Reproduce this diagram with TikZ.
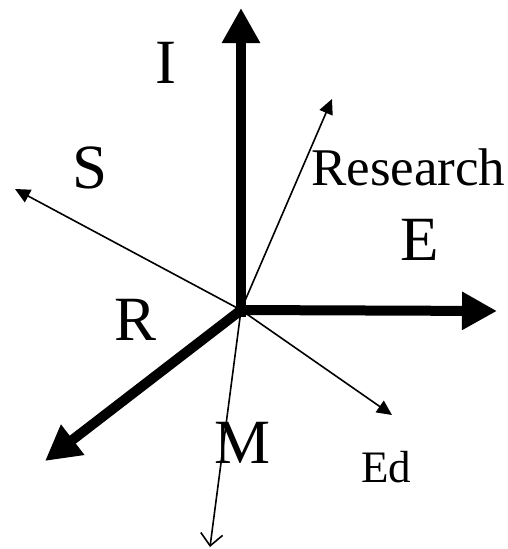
\documentclass[tikz,border=0pt]{standalone}
\usepackage{fontspec}
\setmainfont{Liberation Serif}
\usetikzlibrary{arrows.meta}
\begin{document}
\begin{tikzpicture}[x=1pt,y=-1pt,
  thickarrow/.style={line width=10pt,-{Triangle[length=35pt,width=36pt]}},
  thinarrow/.style={line width=1.6pt,-{Triangle[length=15pt,width=14pt]}},
  openarrow/.style={line width=1.6pt,-{Straight Barb[length=12pt,width=22pt,line width=1.6pt]}},
  biglabel/.style={font=\fontsize{63}{63}\selectfont,inner sep=0pt,anchor=base},
  midlabel/.style={font=\fontsize{53}{53}\selectfont,inner sep=0pt,anchor=base west},
  smalllabel/.style={font=\fontsize{45}{45}\selectfont,inner sep=0pt,anchor=base}]
\useasboundingbox (0,0) rectangle (508,549);
\coordinate (O) at (241,310);
\coordinate (Ov) at (241,317);
\coordinate (Oh) at (236,310);
\coordinate (Od) at (245,307);
\coordinate (Itip) at (241,8);
\coordinate (Etip) at (497,311);
\coordinate (Rtip) at (45,461);
\coordinate (Restip) at (332,99);
\coordinate (Stip) at (15,189);
\coordinate (Edtip) at (392,415);
\coordinate (Mtip) at (210,547);
% thin arrows
\draw[thinarrow] (O) -- (Restip);
\draw[thinarrow] (O) -- (Stip);
\draw[thinarrow] (O) -- (Edtip);
\draw[openarrow] (O) -- (Mtip);
% thick arrows
\draw[thickarrow] (Ov) -- (Itip);
\draw[thickarrow] (Oh) -- (Etip);
\draw[thickarrow] (Od) -- (Rtip);
% labels
\node[biglabel] (I) at (166,83) {I};
\node[biglabel] (S) at (90,188) {S};
\node[midlabel] (Res) at (311,185) {Research};
\node[biglabel] (E) at (420,260) {E};
\node[biglabel] (R) at (136,340) {R};
\node[biglabel] (M) at (243,463) {M};
\node[smalllabel] (Ed) at (386,482) {Ed};
\end{tikzpicture}
\end{document}
